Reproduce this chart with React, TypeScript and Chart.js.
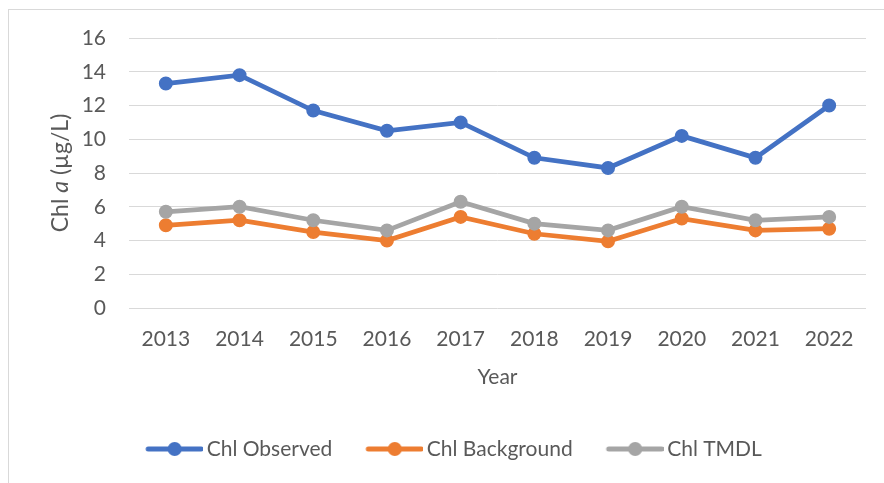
import { useEffect, useRef } from "react";
import { Chart, registerables } from "chart.js";

Chart.register(...registerables);

const years = ["2013", "2014", "2015", "2016", "2017", "2018", "2019", "2020", "2021", "2022"];
const chlObserved = [13.3, 13.8, 11.7, 10.5, 11.0, 8.9, 8.3, 10.2, 8.9, 12.0];
const chlBackground = [4.9, 5.2, 4.5, 4.0, 5.4, 4.4, 3.95, 5.3, 4.6, 4.7];
const chlTmdl = [5.7, 6.0, 5.2, 4.6, 6.3, 5.0, 4.6, 6.0, 5.2, 5.4];
const seriesNames = ["Chl Observed", "Chl Background", "Chl TMDL"];
const seriesColors = ["#4472C4", "#ED7D31", "#A5A5A5"];
const yMin = 0;
const yMax = 16;
const yStep = 2;

const FONT = "Lato";
const TEXT = "#595959";

function makeLegendImage(color: string): HTMLCanvasElement {
  const c = document.createElement("canvas");
  c.width = 88;
  c.height = 16;
  const ctx = c.getContext("2d")!;
  ctx.strokeStyle = color;
  ctx.lineWidth = 5;
  ctx.lineCap = "round";
  ctx.beginPath();
  ctx.moveTo(33, 8);
  ctx.lineTo(86, 8);
  ctx.stroke();
  ctx.fillStyle = color;
  ctx.beginPath();
  ctx.arc(59.5, 8, 7, 0, Math.PI * 2);
  ctx.fill();
  return c;
}

const frame = {
  id: "frame",
  beforeDraw(chart: any) {
    const ctx = chart.ctx;
    ctx.save();
    ctx.fillStyle = "#ffffff";
    ctx.fillRect(0, 0, chart.width, chart.height);
    ctx.fillStyle = "#D9D9D9";
    ctx.fillRect(8, 9, 1, chart.height - 9);
    ctx.fillRect(8, 9, chart.width - 8, 1);
    ctx.restore();
  },
  afterDraw(chart: any) {
    const ctx = chart.ctx;
    const area = chart.chartArea;
    const cy = (area.top + area.bottom) / 2;
    const normal = `23px ${FONT}`;
    const italic = `italic 23px ${FONT}`;
    const parts: [string, string][] = [
      ["Chl ", normal],
      ["a", italic],
      [" (µg/L)", normal],
    ];
    ctx.save();
    let total = 0;
    const widths = parts.map(([t, f]) => {
      ctx.font = f;
      const w = ctx.measureText(t).width;
      total += w;
      return w;
    });
    ctx.translate(61, cy);
    ctx.rotate(-Math.PI / 2);
    ctx.fillStyle = TEXT;
    ctx.textBaseline = "middle";
    ctx.textAlign = "left";
    let x = -total / 2;
    parts.forEach(([t, f], i) => {
      ctx.font = f;
      ctx.fillText(t, x, 0);
      x += widths[i];
    });
    ctx.restore();
  },
};

export default function App() {
  const ref = useRef<HTMLCanvasElement>(null);

  useEffect(() => {
    const canvas = ref.current!;
    const legendImgs = seriesColors.map(makeLegendImage);
    const values = [chlObserved, chlBackground, chlTmdl];
    const orders = [2, 1, 0];
    const chart = new Chart(canvas, {
      type: "line",
      data: {
        labels: years,
        datasets: values.map((v, i) => ({
          label: seriesNames[i],
          data: v,
          borderColor: seriesColors[i],
          backgroundColor: seriesColors[i],
          pointBackgroundColor: seriesColors[i],
          pointBorderColor: seriesColors[i],
          borderWidth: 4.75,
          pointRadius: 6.25,
          pointBorderWidth: 1.5,
          tension: 0,
          fill: false,
          order: orders[i],
        })),
      },
      options: {
        animation: false,
        responsive: false,
        devicePixelRatio: 1,
        layout: { padding: { left: 18, right: 18, top: 38, bottom: 13.5 } },
        plugins: {
          tooltip: { enabled: false },
          legend: {
            position: "bottom",
            labels: {
              usePointStyle: true,
              pointStyleWidth: 74,
              padding: 10,
              color: TEXT,
              font: { family: FONT, size: 21 },
              generateLabels: (ch: any) => {
                const items = Chart.defaults.plugins.legend.labels.generateLabels(ch);
                items.sort((a: any, b: any) => a.datasetIndex - b.datasetIndex);
                items.forEach((it: any) => {
                  it.pointStyle = legendImgs[it.datasetIndex];
                  it.fontColor = TEXT;
                });
                return items;
              },
            },
          },
        },
        scales: {
          x: {
            offset: true,
            grid: { display: false, drawTicks: false },
            border: { display: false },
            ticks: { color: TEXT, font: { family: FONT, size: 21 }, padding: 19, maxRotation: 0 },
            title: {
              display: true,
              text: "Year",
              color: TEXT,
              font: { family: FONT, size: 21 },
              padding: { top: 4, bottom: 39 },
            },
            afterFit: (s: any) => {
              s.height = 120.5;
            },
          },
          y: {
            min: yMin,
            max: yMax,
            grid: { color: "#D9D9D9", lineWidth: 1, drawTicks: false },
            border: { display: false },
            ticks: { stepSize: yStep, color: TEXT, font: { family: FONT, size: 21 }, padding: 23 },
            afterFit: (s: any) => {
              s.width = 111;
            },
          },
        },
      },
      plugins: [frame],
    });
    return () => chart.destroy();
  }, []);

  return (
    <div style={{ position: "absolute", left: 0, top: 0, width: 884, height: 483 }}>
      <canvas ref={ref} width={884} height={483} style={{ display: "block" }} />
    </div>
  );
}
